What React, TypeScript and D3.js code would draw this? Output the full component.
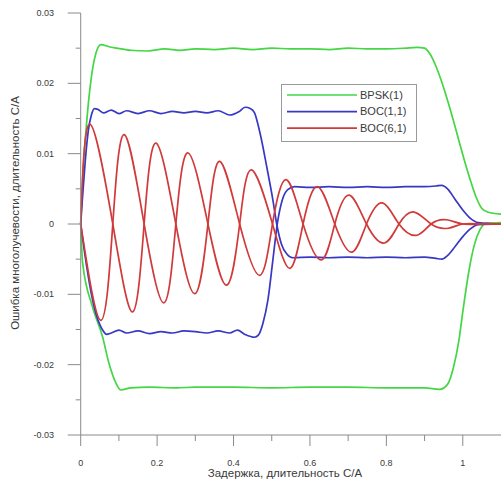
import React from "react";
import * as d3 from "d3";

type Pt = [number, number];

// Series (delay in C/A chips, multipath error in C/A chips)
const bpskUpper: Pt[] = [
  [0, 0], [0.005, 0.0063], [0.014, 0.0134], [0.027, 0.0205], [0.04, 0.0243], [0.053, 0.0255],
  [0.074, 0.0252], [0.094, 0.025], [0.13, 0.0247], [0.176, 0.0246], [0.22, 0.0249], [0.26, 0.0247],
  [0.3, 0.0249], [0.35, 0.0248], [0.4, 0.025], [0.45, 0.0248], [0.5, 0.025], [0.55, 0.0249],
  [0.6, 0.0249], [0.65, 0.0248], [0.7, 0.025], [0.75, 0.0249], [0.8, 0.0249], [0.85, 0.025],
  [0.88, 0.0251], [0.9, 0.025], [0.915, 0.0241], [0.93, 0.0224], [0.945, 0.0202], [0.96, 0.0176],
  [0.975, 0.0148], [0.99, 0.0118], [1.005, 0.0089], [1.02, 0.0062], [1.035, 0.0038], [1.05, 0.0022],
  [1.065, 0.0017], [1.1, 0.0014],
];
const bpskLower: Pt[] = [
  [0, 0], [0.005, -0.0055], [0.031, -0.0118], [0.057, -0.016], [0.074, -0.0198], [0.092, -0.0226],
  [0.105, -0.0236], [0.131, -0.0233], [0.18, -0.0232], [0.25, -0.0233], [0.3, -0.0232], [0.4, -0.0232],
  [0.5, -0.0233], [0.6, -0.0232], [0.7, -0.0232], [0.8, -0.0233], [0.9, -0.0233], [0.94, -0.0235],
  [0.96, -0.0228], [0.975, -0.0205], [0.99, -0.0165], [1.0, -0.0125], [1.015, -0.007], [1.03, -0.003],
  [1.045, -0.0008], [1.06, 0.0001], [1.1, 0.0002],
];
const boc11Upper: Pt[] = [
  [0, 0], [0.005, 0.004], [0.012, 0.009], [0.02, 0.0133], [0.028, 0.0155], [0.036, 0.0164],
  [0.045, 0.0163], [0.06, 0.0158], [0.08, 0.0162], [0.1, 0.0157], [0.12, 0.0161], [0.15, 0.0157],
  [0.18, 0.0161], [0.21, 0.0157], [0.24, 0.016], [0.27, 0.0158], [0.3, 0.016], [0.33, 0.0158],
  [0.36, 0.0161], [0.39, 0.0155], [0.415, 0.016], [0.43, 0.0166], [0.445, 0.0164], [0.455, 0.0158],
  [0.469, 0.013], [0.487, 0.0081], [0.503, 0.0034], [0.513, 0], [0.525, -0.0028], [0.54, -0.0043],
  [0.555, -0.0048], [0.6, -0.0047], [0.65, -0.0048], [0.7, -0.0047], [0.75, -0.0048], [0.8, -0.0047],
  [0.85, -0.0048], [0.9, -0.0047], [0.93, -0.0049], [0.945, -0.005], [0.96, -0.0045], [0.98, -0.0032],
  [1.0, -0.0018], [1.02, -0.0007], [1.04, -0.0001], [1.1, 0],
];
const boc11Lower: Pt[] = [
  [0, 0], [0.01, -0.004], [0.02, -0.0075], [0.03, -0.0105], [0.04, -0.0128], [0.05, -0.0143],
  [0.06, -0.0153], [0.068, -0.0157], [0.08, -0.0155], [0.1, -0.0151], [0.12, -0.0155], [0.15, -0.0152],
  [0.18, -0.0156], [0.21, -0.0153], [0.24, -0.0155], [0.27, -0.0152], [0.3, -0.0153], [0.33, -0.0155],
  [0.36, -0.0152], [0.39, -0.0155], [0.41, -0.0151], [0.43, -0.0157], [0.455, -0.0161], [0.465, -0.0158],
  [0.477, -0.0141], [0.49, -0.0108], [0.503, -0.0051], [0.515, 0.0002], [0.528, 0.0035], [0.542, 0.0049],
  [0.56, 0.0053], [0.6, 0.0052], [0.65, 0.0053], [0.7, 0.0052], [0.75, 0.0053], [0.8, 0.0052],
  [0.85, 0.0053], [0.9, 0.0053], [0.93, 0.0054], [0.945, 0.0055], [0.96, 0.005], [0.98, 0.0035],
  [1.0, 0.002], [1.02, 0.0008], [1.04, 0.0002], [1.1, 0],
];
const boc61A: Pt[] = [
  [0, 0], [0.024, 0.0142], [0.084, 0], [0.136, -0.0125], [0.166, 0], [0.197, 0.0115], [0.249, 0],
  [0.299, -0.0099], [0.333, 0], [0.364, 0.0089], [0.416, 0], [0.469, -0.0073], [0.502, 0],
  [0.538, 0.0063], [0.582, 0], [0.63, -0.0051], [0.665, 0], [0.703, 0.0041], [0.748, 0],
  [0.795, -0.0027], [0.833, 0], [0.873, 0.0017], [0.917, 0], [0.962, -0.0006], [1.0, 0],
  [1.05, 0], [1.1, 0],
];
const boc61B: Pt[] = [
  [0, 0], [0.053, -0.0137], [0.084, 0], [0.114, 0.0127], [0.166, 0], [0.218, -0.0112], [0.249, 0],
  [0.281, 0.0101], [0.333, 0], [0.382, -0.0087], [0.416, 0], [0.447, 0.0077], [0.502, 0],
  [0.548, -0.0063], [0.582, 0], [0.62, 0.0053], [0.665, 0], [0.71, -0.004], [0.748, 0],
  [0.79, 0.003], [0.833, 0], [0.88, -0.0016], [0.917, 0], [0.958, 0.0006], [1.0, 0],
  [1.05, 0], [1.1, 0],
];

const xTicks = [0, 0.2, 0.4, 0.6, 0.8, 1];
const xTickLabels = ["0", "0.2", "0.4", "0.6", "0.8", "1"];
const xMinor = [0.1, 0.3, 0.5, 0.7, 0.9];
const yTicks = [0.03, 0.02, 0.01, 0, -0.01, -0.02, -0.03];
const yTickLabels = ["0.03", "0.02", "0.01", "0", "-0.01", "-0.02", "-0.03"];
const yMinor = [0.025, 0.015, 0.005, -0.005, -0.015, -0.025];

const legendNames = ["BPSK(1)", "BOC(1,1)", "BOC(6,1)"];
const xTitle = "Задержка, длительность C/A";
const yTitle = "Ошибка многолучевости, длительность C/A";

const GREEN = "#44d644";
const BLUE = "#3838c4";
const RED = "#d03a3a";
const FONT = "'Liberation Sans', Arial, sans-serif";

export default function App() {
  const x = d3.scaleLinear().domain([0, 1.1]).range([80.7, 501]);
  const y = d3.scaleLinear().domain([-0.03, 0.03]).range([435, 13]);
  const smooth = d3
    .line<Pt>()
    .x((d) => x(d[0]))
    .y((d) => y(d[1]))
    .curve(d3.curveMonotoneX);
  const wave = d3
    .line<Pt>()
    .x((d) => x(d[0]))
    .y((d) => y(d[1]))
    .curve(d3.curveNatural);

  const series: { data: Pt[]; color: string; gen: typeof smooth }[] = [
    { data: bpskUpper, color: GREEN, gen: smooth },
    { data: bpskLower, color: GREEN, gen: smooth },
    { data: boc11Upper, color: BLUE, gen: smooth },
    { data: boc11Lower, color: BLUE, gen: smooth },
    { data: boc61A, color: RED, gen: wave },
    { data: boc61B, color: RED, gen: wave },
  ];
  const legendColors = [GREEN, BLUE, RED];
  const axisColor = "#8a8a8a";
  const textColor = "#3a3a3a";

  return (
    <svg
      width={501}
      height={482}
      style={{ position: "absolute", left: 0, top: 0, background: "#fff" }}
      fontFamily={FONT}
    >
      {series.map((s, i) => (
        <path key={i} d={s.gen(s.data) || ""} fill="none" stroke={s.color} strokeWidth={1.7} strokeLinejoin="round" />
      ))}

      {/* y axis */}
      <line x1={x(0)} x2={x(0)} y1={y(0.03)} y2={y(-0.03)} stroke={axisColor} strokeWidth={1} />
      {yTicks.map((t, i) => (
        <g key={"yt" + i}>
          <line x1={x(0) - 13} x2={x(0)} y1={y(t)} y2={y(t)} stroke={axisColor} strokeWidth={1} />
          <text x={54} y={y(t)} dy="0.35em" textAnchor="end" fontSize={9} fill={textColor}>
            {yTickLabels[i]}
          </text>
        </g>
      ))}
      {yMinor.map((t, i) => (
        <line key={"ym" + i} x1={x(0) - 5} x2={x(0)} y1={y(t)} y2={y(t)} stroke={axisColor} strokeWidth={1} />
      ))}

      {/* x axis */}
      <line x1={x(0)} x2={501} y1={y(-0.03)} y2={y(-0.03)} stroke={axisColor} strokeWidth={1} />
      {xTicks.map((t, i) => (
        <g key={"xt" + i}>
          <line x1={x(t)} x2={x(t)} y1={y(-0.03)} y2={y(-0.03) + 11} stroke={axisColor} strokeWidth={1} />
          <text x={x(t)} y={465.5} textAnchor="middle" fontSize={9} fill={textColor}>
            {xTickLabels[i]}
          </text>
        </g>
      ))}
      {xMinor.map((t, i) => (
        <line key={"xm" + i} x1={x(t)} x2={x(t)} y1={y(-0.03)} y2={y(-0.03) + 6} stroke={axisColor} strokeWidth={1} />
      ))}

      {/* axis titles */}
      <text x={285} y={477} textAnchor="middle" fontSize={11.5} fill={textColor}>
        {xTitle}
      </text>
      <text transform={`translate(19,213) rotate(-90)`} textAnchor="middle" fontSize={11.5} fill={textColor}>
        {yTitle}
      </text>

      {/* legend */}
      <rect x={281.5} y={84.5} width={135} height={57} fill="#fff" stroke="#9a9a9a" strokeWidth={1} />
      {legendNames.map((n, i) => {
        const ly = 95 + i * 16.6;
        return (
          <g key={"lg" + i}>
            <line x1={287} x2={357} y1={ly} y2={ly} stroke={legendColors[i]} strokeWidth={1.7} />
            <text x={360} y={ly} dy="0.35em" fontSize={11} fill={textColor}>
              {n}
            </text>
          </g>
        );
      })}
    </svg>
  );
}
